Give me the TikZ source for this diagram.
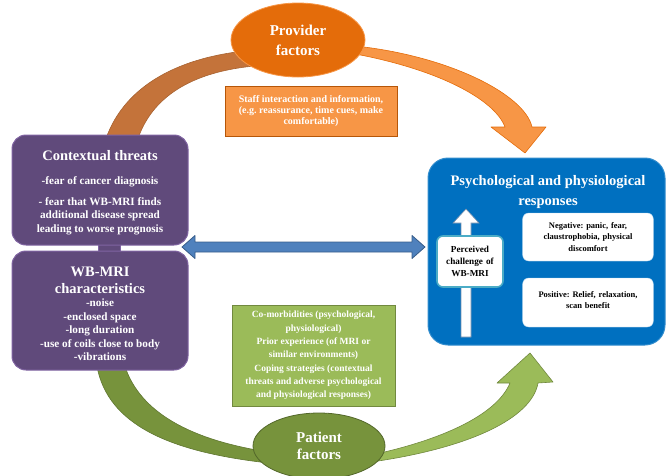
\documentclass[tikz,border=0pt]{standalone}
\usepackage{fontspec}
\setmainfont{Liberation Serif}
\usepackage{xcolor}
\usepackage{tikz}
\usetikzlibrary{positioning,shapes.geometric,backgrounds}
\frenchspacing

\definecolor{provorange}{HTML}{E46C0A}
\definecolor{lightorange}{HTML}{F79646}
\definecolor{bandbrown}{HTML}{C4733A}
\definecolor{mripurple}{HTML}{604A7B}
\definecolor{purpleedge}{HTML}{8064A2}
\definecolor{arrowblue}{HTML}{4F81BD}
\definecolor{blueedge}{HTML}{385D8A}
\definecolor{respblue}{HTML}{0070C0}
\definecolor{cyanedge}{HTML}{4BACC6}
\definecolor{patgreen}{HTML}{77933C}
\definecolor{lightgreen}{HTML}{9BBB59}
\definecolor{greenedge}{HTML}{71893F}

\tikzset{
    factor/.style={ellipse, draw, line width=0.8pt, text=white, align=center, inner sep=0pt,
        font=\fontsize{15}{20}\selectfont\bfseries},
    infobox/.style={rectangle, draw, line width=0.8pt, text=white, align=center, inner sep=2pt,
        font=\fontsize{10}{11}\selectfont\bfseries},
    purplebox/.style={rectangle, rounded corners=14pt, fill=mripurple, draw=purpleedge, line width=1pt,
        text=white, align=center, minimum width=176, inner sep=2pt, font=\bfseries},
    whitebox/.style={rectangle, rounded corners=6pt, fill=white, align=center,
        font=\fontsize{8.5}{11.5}\selectfont\bfseries},
    itemline/.style={font=\fontsize{11.2}{13.5}\selectfont\bfseries},
    band/.style={line width=0.6pt, line join=round},
}

\begin{document}
\begin{tikzpicture}[x=1pt,y=-1pt]
    \useasboundingbox (0,0) rectangle (667,475);

    \node[factor, fill=provorange, draw=lightorange, minimum width=134, minimum height=74] (prov) at (298,40) {
        Provider\\factors
    };
    \node[infobox, fill=lightorange, draw=provorange!80!black, minimum width=172, minimum height=50] (staff) at (311,111) {
        Staff interaction and information,\\(e.g. reassurance, time cues, make\\comfortable)
    };
    \node[purplebox, minimum height=110] (ctx) at (100,190) {};
    \node[text=white, font=\fontsize{14.5}{17}\selectfont\bfseries] (ctxt) at (100,156) {Contextual threats};
    \node[text=white, itemline, align=center] (ctxa) at (100,182) {-fear of cancer diagnosis};
    \node[text=white, itemline, align=center] (ctxb) at (100,216) {
        - fear that WB-MRI finds\\additional disease spread\\leading to worse prognosis
    };
    \node[purplebox, minimum height=119] (mri) at (100,310.5) {};
    \node[text=white, align=center, font=\fontsize{14.5}{17}\selectfont\bfseries] (mrit) at (100,280) {
        WB-MRI\\characteristics
    };
    \node[text=white, itemline, align=center] (mria) at (100,330) {
        -noise\\-enclosed space\\-long duration\\-use of coils close to body\\-vibrations
    };
    \node[rectangle, rounded corners=20pt, fill=respblue, draw=respblue!80!white, line width=1pt,
        minimum width=237, minimum height=187] (rr) at (546.5,251.5) {};
    \node[text=white, align=center, font=\fontsize{14.5}{20}\selectfont\bfseries] (rrt) at (548,192) {
        Psychological and physiological\\responses
    };

    % white arrow inside the responses box
    \coordinate (wbase) at (466,337);
    \coordinate (wtip) at (466,209);
    \draw[fill=white, draw=blueedge!70, line width=0.6pt] ([shift={(-5,0)}]wbase) -- ([shift={(-5,14)}]wtip)
        -- ([shift={(-13,14)}]wtip) -- (wtip) -- ([shift={(13,14)}]wtip) -- ([shift={(5,14)}]wtip)
        -- ([shift={(5,0)}]wbase) -- cycle;

    \node[whitebox, draw=cyanedge, line width=1.6pt, minimum width=66, minimum height=51, text width=62, inner sep=1pt,
        font=\fontsize{9.2}{12}\selectfont\bfseries] (perc) at (470,261.5) {
        Perceived\\challenge of\\WB-MRI
    };
    \node[whitebox, draw=respblue!30, minimum width=130, minimum height=48, text width=124] (neg) at (588,237) {
        Negative: panic, fear,\\claustrophobia, physical\\discomfort
    };
    \node[whitebox, draw=respblue!30, minimum width=130, minimum height=49, text width=124, text depth=17pt] (pos) at (588,302.5) {
        Positive: Relief, relaxation,\\scan benefit
    };
    \node[infobox, fill=lightgreen, draw=greenedge, minimum width=163, minimum height=101,
        font=\fontsize{9.5}{13.3}\selectfont\bfseries] (cop) at (313.5,355.5) {
        Co-morbidities (psychological,\\physiological)\\Prior experience (of MRI or\\similar environments)\\Coping strategies (contextual\\threats and adverse psychological\\and physiological responses)
    };
    \node[factor, fill=patgreen, draw=patgreen!70!black, minimum width=132, minimum height=66,
        font=\fontsize{15}{17.5}\selectfont\bfseries] (pat) at (319,446) {
        Patient\\factors
    };

    % double arrow between the left boxes and the responses
    \coordinate (dl) at (182,247);
    \coordinate (dr) at (425,247);
    \draw[fill=arrowblue, draw=blueedge, line width=0.8pt, line join=round] (dl) -- ++(13,-11.5) -- ++(0,6.5)
        -- ([shift={(-13,-5)}]dr) -- ++(0,-6.5) -- (dr) -- ++(-13,11.5) -- ++(0,-6.5)
        -- ([shift={(13,5)}]dl) -- ++(0,6.5) -- cycle;

    \begin{scope}[on background layer]
        \filldraw[fill=mripurple, draw=purpleedge] ([shift={(-2,-3)}]ctx.south) rectangle ([shift={(20,3)}]mri.north);
        % orange bands
        \filldraw[band, fill=bandbrown, draw=bandbrown!85!black] ([shift={(6,4)}]ctx.north)
            .. controls (125,85) and (180,56) .. ([shift={(24,10)}]prov.west)
            -- ([shift={(24,26)}]prov.west) .. controls (190,72) and (152,98) .. ([shift={(38,4)}]ctx.north) -- cycle;
        \coordinate (otip) at (525,153);
        \filldraw[band, fill=lightorange, draw=provorange] ([shift={(-10,6)}]prov.east)
            .. controls (450,56) and (525,95) .. (532,127) -- (546,127) -- (otip) -- (491,127) -- (505,127)
            .. controls (495,100) and (440,70) .. ([shift={(-10,14)}]prov.east) -- cycle;
        % green bands
        \filldraw[band, fill=patgreen, draw=patgreen!80!black] ([shift={(-3,-4)}]mri.south)
            .. controls (108,425) and (170,452) .. ([shift={(16,17)}]pat.west)
            -- ([shift={(16,6)}]pat.west) .. controls (190,440) and (140,412) .. ([shift={(25,-4)}]mri.south) -- cycle;
        \coordinate (gtip) at (530,353);
        \filldraw[band, fill=lightgreen, draw=greenedge] ([shift={(-14,16)}]pat.east)
            .. controls (470,448) and (532,418) .. (538,383) -- (553,382) -- (gtip) -- (497,383) -- (510,383)
            .. controls (498,412) and (450,438) .. ([shift={(-14,9)}]pat.east) -- cycle;
    \end{scope}
\end{tikzpicture}
\end{document}
